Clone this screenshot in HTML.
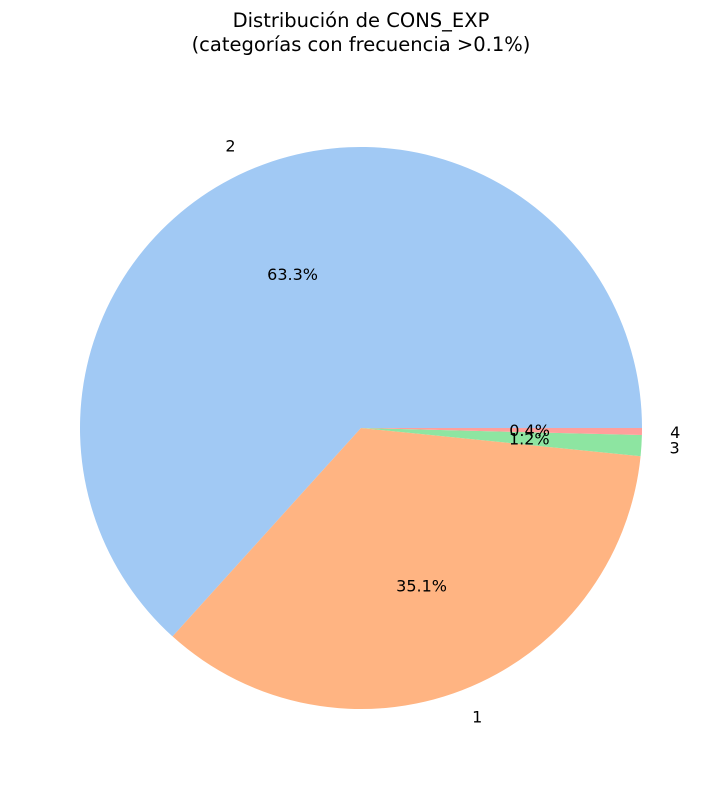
<!DOCTYPE html>
<html><head><meta charset="utf-8">
<style>
html,body{margin:0;padding:0;background:#fff;}
svg{display:block;font-family:"DejaVu Sans","Liberation Sans",sans-serif;}
</style></head>
<body>
<svg id="chart" width="722" height="790" viewBox="0 0 722 790">
<text x="361" y="27" text-anchor="middle" font-size="19.5">Distribución de CONS_EXP</text>
<text x="361" y="51" text-anchor="middle" font-size="19.5">(categorías con frecuencia &gt;0.1%)</text>
<g id="slices"></g>
</svg>
<script>
const categories = ["2", "1", "3", "4"];
const values = [63.3, 35.1, 1.2, 0.4];
const pctLabels = ["63.3%", "35.1%", "1.2%", "0.4%"];
const colors = ["#a1c9f4", "#ffb482", "#8de5a1", "#ff9f9b"];

const cx = 361, cy = 428, r = 281;
const svg = document.getElementById('slices');
const NS = "http://www.w3.org/2000/svg";
const total = values.reduce((a,b)=>a+b,0);
function pt(deg, rad){ const a = deg*Math.PI/180; return [cx + rad*Math.cos(a), cy - rad*Math.sin(a)]; }
let start = 0;
values.forEach((v,i)=>{
  const sweep = v/total*360;
  const end = start + sweep;
  const [x1,y1] = pt(start,r), [x2,y2] = pt(end,r);
  const large = sweep > 180 ? 1 : 0;
  const p = document.createElementNS(NS,'path');
  p.setAttribute('d', `M${cx},${cy} L${x1},${y1} A${r},${r} 0 ${large} 0 ${x2},${y2} Z`);
  p.setAttribute('fill', colors[i]);
  
  
  svg.appendChild(p);
  const mid = start + sweep/2;
  const [lx,ly] = pt(mid, r*1.1);
  const t = document.createElementNS(NS,'text');
  t.setAttribute('x', lx); t.setAttribute('y', ly + 6);
  t.setAttribute('font-size', '16');
  t.setAttribute('text-anchor', Math.cos(mid*Math.PI/180) >= 0 ? 'start' : 'end');
  t.textContent = categories[i];
  
  
  svg.appendChild(t);
  const [px,py] = pt(mid, r*0.6);
  const t2 = document.createElementNS(NS,'text');
  t2.setAttribute('x', px); t2.setAttribute('y', py + 6);
  t2.setAttribute('font-size', '16');
  t2.setAttribute('text-anchor', 'middle');
  t2.textContent = pctLabels[i];
  
  
  svg.appendChild(t2);
  start = end;
});
</script>
</body></html>
